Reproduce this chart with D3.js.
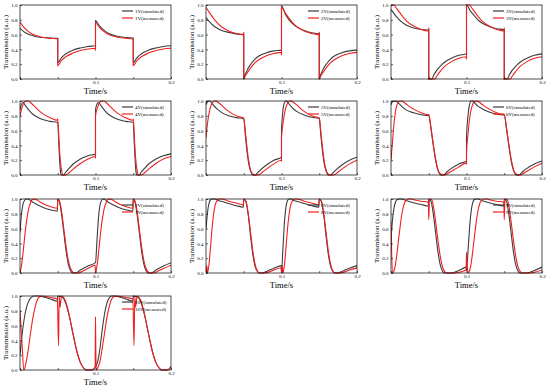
<!DOCTYPE html>
<html>
<head>
<meta charset="utf-8">
<script src="https://d3js.org/d3.v7.min.js"></script>
<style>
  body { margin: 0; background: #fff; }
  svg text { font-family: "Liberation Serif", "Times New Roman", serif; fill: #000; }
</style>
</head>
<body>
<svg id="chart" width="550" height="390"></svg>
<script>
// [time (s), transmission]
var sim1V = [[0,.685],[.005,.64],[.01,.61],[.015,.59],[.02,.575],[.03,.56],[.04,.553],[.05,.55],[.05,.22],[.055,.29],[.06,.335],[.07,.39],[.08,.42],[.09,.44],[.1,.45],[.1,.79],[.105,.72],[.11,.67],[.115,.63],[.12,.605],[.13,.575],[.14,.56],[.15,.555],[.15,.22],[.155,.29],[.16,.335],[.17,.39],[.18,.42],[.19,.44],[.2,.45]];
var meas1V = [[0,.77],[.005,.7],[.01,.65],[.015,.615],[.02,.59],[.03,.565],[.04,.55],[.05,.54],[.05,.18],[.055,.25],[.06,.295],[.07,.35],[.08,.385],[.09,.405],[.0995,.415],[.1,.39],[.1,.77],[.105,.7],[.11,.65],[.115,.615],[.12,.59],[.13,.565],[.14,.55],[.15,.54],[.15,.18],[.155,.25],[.16,.295],[.17,.35],[.18,.385],[.19,.405],[.2,.415]];

var sim2V = [[0,.83],[.005,.77],[.01,.72],[.015,.685],[.02,.66],[.03,.63],[.04,.61],[.05,.6],[.05,0],[.052,.06],[.055,.13],[.06,.21],[.065,.27],[.07,.31],[.08,.355],[.09,.38],[.1,.39],[.1,.99],[.105,.88],[.11,.8],[.115,.745],[.12,.705],[.13,.655],[.14,.625],[.15,.61],[.15,0],[.152,.06],[.155,.13],[.16,.21],[.165,.27],[.17,.31],[.18,.355],[.19,.38],[.2,.39]];
var meas2V = [[0,.97],[.005,.89],[.01,.82],[.015,.76],[.02,.71],[.03,.65],[.04,.615],[.0495,.595],[.05,.63],[.05,.01],[.052,.04],[.055,.09],[.06,.16],[.065,.22],[.07,.26],[.08,.315],[.09,.345],[.0995,.36],[.1,.33],[.1,.97],[.105,.89],[.11,.82],[.115,.76],[.12,.71],[.13,.65],[.14,.615],[.1495,.595],[.15,.63],[.15,.01],[.152,.04],[.155,.09],[.16,.16],[.165,.22],[.17,.26],[.18,.315],[.19,.345],[.2,.36]];

var sim3V = [[0,.94],[.005,.87],[.01,.81],[.015,.765],[.02,.73],[.03,.69],[.04,.67],[.05,.66],[.05,0],[.054,.001],[.057,.06],[.06,.11],[.065,.17],[.07,.22],[.08,.28],[.09,.32],[.1,.34],[.1,1],[.105,.92],[.11,.86],[.115,.8],[.12,.76],[.13,.71],[.14,.68],[.15,.665],[.15,0],[.154,.001],[.157,.06],[.16,.11],[.165,.17],[.17,.22],[.18,.28],[.19,.32],[.2,.34]];
var meas3V = [[0,.999],[.004,1],[.007,.96],[.01,.92],[.015,.85],[.02,.79],[.03,.715],[.04,.67],[.0495,.65],[.05,.69],[.05,0],[.058,.001],[.06,.03],[.065,.1],[.07,.16],[.08,.235],[.09,.28],[.0995,.3],[.1,.27],[.1,.999],[.104,1],[.107,.96],[.11,.92],[.115,.85],[.12,.79],[.13,.715],[.14,.67],[.1495,.65],[.15,.69],[.15,0],[.158,.001],[.16,.03],[.165,.1],[.17,.16],[.18,.235],[.19,.28],[.2,.3]];

var sim4V = [[0,.88],[.002,.96],[.004,.98],[.007,.94],[.01,.9],[.015,.84],[.02,.8],[.03,.75],[.04,.725],[.05,.71],[.0515,.4],[.053,.12],[.054,.02],[.055,0],[.058,.001],[.06,.03],[.065,.09],[.07,.145],[.08,.215],[.09,.26],[.1,.285],[.1,.88],[.102,.96],[.104,.98],[.107,.94],[.11,.9],[.115,.84],[.12,.8],[.13,.75],[.14,.725],[.15,.71],[.1515,.4],[.153,.12],[.154,.02],[.155,0],[.158,.001],[.16,.03],[.165,.09],[.17,.145],[.18,.215],[.19,.26],[.2,.285]];
var meas4V = [[0,.8],[.003,.92],[.006,.99],[.008,1],[.011,.999],[.015,.97],[.02,.92],[.025,.87],[.03,.83],[.04,.775],[.0495,.74],[.05,.76],[.0515,.5],[.053,.25],[.055,.07],[.057,0],[.061,.001],[.065,.03],[.07,.075],[.08,.155],[.09,.215],[.0995,.25],[.1,.23],[.1,.8],[.103,.92],[.106,.99],[.108,1],[.111,.999],[.115,.97],[.12,.92],[.125,.87],[.13,.83],[.14,.775],[.1495,.74],[.15,.76],[.1515,.5],[.153,.25],[.155,.07],[.157,0],[.161,.001],[.165,.03],[.17,.075],[.18,.155],[.19,.215],[.2,.25]];

var sim5V = [[0,.95],[.002,.99],[.004,1],[.007,.98],[.01,.94],[.015,.89],[.02,.85],[.03,.8],[.04,.775],[.05,.76],[.052,.55],[.054,.35],[.056,.19],[.058,.09],[.06,.03],[.062,0],[.065,.001],[.07,.05],[.08,.135],[.09,.2],[.1,.24],[.1,.6],[.102,.88],[.104,.98],[.106,1],[.108,.99],[.11,.96],[.115,.9],[.12,.86],[.13,.81],[.14,.78],[.15,.765],[.152,.55],[.154,.35],[.156,.19],[.158,.09],[.16,.03],[.162,0],[.165,.001],[.17,.05],[.18,.135],[.19,.2],[.2,.24]];
var meas5V = [[0,.5],[.002,.7],[.004,.83],[.006,.92],[.008,.97],[.011,1],[.013,.999],[.016,.98],[.02,.95],[.025,.9],[.03,.86],[.04,.8],[.05,.77],[.052,.6],[.054,.4],[.056,.23],[.058,.11],[.06,.04],[.062,.01],[.064,0],[.069,.001],[.075,.04],[.08,.08],[.09,.15],[.0995,.2],[.1,.19],[.1,.5],[.102,.7],[.104,.83],[.106,.92],[.108,.97],[.111,1],[.113,.999],[.116,.98],[.12,.95],[.125,.9],[.13,.86],[.14,.8],[.15,.77],[.152,.6],[.154,.4],[.156,.23],[.158,.11],[.16,.04],[.162,.01],[.164,0],[.169,.001],[.175,.04],[.18,.08],[.19,.15],[.2,.2]];

var sim6V = [[0,.95],[.002,.99],[.005,1],[.008,.99],[.01,.97],[.015,.92],[.02,.88],[.03,.84],[.04,.815],[.05,.8],[.053,.62],[.056,.4],[.059,.2],[.062,.07],[.065,.01],[.067,0],[.069,.001],[.075,.05],[.08,.09],[.09,.15],[.1,.19],[.1,.5],[.102,.8],[.104,.95],[.106,1],[.108,.999],[.11,.98],[.115,.93],[.12,.9],[.13,.85],[.14,.82],[.15,.81],[.153,.62],[.156,.4],[.159,.2],[.162,.07],[.165,.01],[.167,0],[.169,.001],[.175,.05],[.18,.09],[.19,.15],[.2,.19]];
var meas6V = [[0,.2],[.002,.45],[.004,.7],[.006,.86],[.008,.95],[.01,.99],[.013,1],[.016,.99],[.02,.96],[.025,.92],[.03,.89],[.04,.84],[.0495,.815],[.05,.82],[.053,.64],[.056,.42],[.06,.17],[.063,.05],[.066,.01],[.068,0],[.071,.001],[.075,.02],[.08,.05],[.09,.11],[.0995,.16],[.1,.15],[.1,.3],[.102,.55],[.104,.75],[.106,.88],[.108,.95],[.11,.99],[.113,1],[.116,.99],[.12,.96],[.125,.92],[.13,.89],[.14,.84],[.1495,.815],[.15,.82],[.153,.64],[.156,.42],[.16,.17],[.163,.05],[.166,.01],[.168,0],[.171,.001],[.175,.02],[.18,.05],[.19,.11],[.2,.16]];

var sim7V = [[0,.55],[.002,.8],[.004,.93],[.006,.98],[.008,1],[.011,.999],[.015,.97],[.02,.94],[.03,.89],[.04,.855],[.0495,.835],[.05,1],[.052,.97],[.055,.8],[.058,.55],[.061,.3],[.064,.12],[.067,.03],[.07,0],[.074,.001],[.08,.04],[.09,.095],[.1,.14],[.102,.45],[.104,.75],[.106,.92],[.108,.98],[.11,1],[.112,.999],[.115,.97],[.12,.94],[.13,.89],[.14,.855],[.1495,.835],[.15,1],[.152,.97],[.155,.8],[.158,.55],[.161,.3],[.164,.12],[.167,.03],[.17,0],[.174,.001],[.18,.04],[.19,.095],[.2,.14]];
var meas7V = [[0,0],[.002,.1],[.004,.27],[.006,.47],[.008,.65],[.01,.79],[.012,.89],[.014,.95],[.016,.99],[.019,1],[.022,.99],[.025,.97],[.03,.94],[.04,.9],[.0495,.875],[.05,1],[.052,.98],[.055,.84],[.058,.6],[.061,.36],[.064,.17],[.067,.06],[.07,.01],[.072,0],[.078,.001],[.082,.02],[.09,.06],[.0995,.105],[.1,0],[.102,.1],[.104,.27],[.106,.47],[.108,.65],[.11,.79],[.112,.89],[.114,.95],[.116,.99],[.119,1],[.122,.99],[.125,.97],[.13,.94],[.14,.9],[.1495,.875],[.15,1],[.152,.98],[.155,.84],[.158,.6],[.161,.36],[.164,.17],[.167,.06],[.17,.01],[.172,0],[.178,.001],[.182,.02],[.19,.06],[.2,.105]];

var sim8V = [[0,.6],[.002,.82],[.004,.94],[.006,.99],[.008,1],[.012,.999],[.016,.98],[.02,.97],[.03,.94],[.04,.91],[.0495,.89],[.05,1],[.053,.96],[.056,.78],[.059,.5],[.062,.25],[.065,.09],[.068,.02],[.07,0],[.075,.001],[.08,.02],[.09,.065],[.1,.1],[.1,.03],[.102,.35],[.104,.7],[.106,.9],[.108,.98],[.11,1],[.113,.999],[.116,.98],[.12,.97],[.13,.94],[.14,.91],[.1495,.89],[.15,1],[.153,.96],[.156,.78],[.159,.5],[.162,.25],[.165,.09],[.168,.02],[.17,0],[.175,.001],[.18,.02],[.19,.065],[.2,.1]];
var meas8V = [[0,0],[.001,.1],[.002,0],[.004,.12],[.006,.35],[.008,.6],[.01,.79],[.012,.91],[.014,.97],[.017,1],[.02,.999],[.025,.99],[.03,.97],[.04,.945],[.0495,.92],[.05,1],[.053,.97],[.056,.8],[.059,.55],[.062,.3],[.065,.12],[.068,.03],[.071,0],[.078,.001],[.085,.02],[.09,.04],[.0995,.07],[.1,0],[.101,.1],[.102,0],[.104,.12],[.106,.35],[.108,.6],[.11,.79],[.112,.91],[.114,.97],[.117,1],[.12,.999],[.125,.99],[.13,.97],[.14,.945],[.1495,.92],[.15,1],[.153,.97],[.156,.8],[.159,.55],[.162,.3],[.165,.12],[.168,.03],[.171,0],[.178,.001],[.185,.02],[.19,.04],[.2,.07]];

var sim9V = [[0,.45],[.002,.72],[.004,.88],[.006,.96],[.008,.99],[.01,1],[.014,.999],[.02,.98],[.03,.95],[.04,.925],[.0495,.905],[.05,1],[.053,.97],[.056,.8],[.059,.55],[.062,.3],[.065,.12],[.068,.03],[.071,0],[.08,.001],[.09,.035],[.1,.08],[.1,.03],[.102,.3],[.104,.6],[.106,.82],[.108,.94],[.11,.99],[.112,1],[.116,.999],[.12,.98],[.13,.95],[.14,.925],[.1495,.905],[.15,1],[.153,.97],[.156,.8],[.159,.55],[.162,.3],[.165,.12],[.168,.03],[.171,0],[.18,.001],[.19,.035],[.2,.08]];
var meas9V = [[0,.7],[.002,0],[.004,.03],[.006,.12],[.008,.27],[.01,.45],[.012,.62],[.014,.77],[.016,.88],[.018,.95],[.02,.98],[.023,1],[.027,.999],[.03,.99],[.04,.97],[.0495,.955],[.05,.72],[.051,1],[.054,.99],[.057,.85],[.06,.62],[.063,.38],[.066,.18],[.069,.06],[.072,.01],[.075,0],[.085,.001],[.09,.01],[.0995,.04],[.1,.28],[.101,.1],[.102,0],[.104,.03],[.106,.12],[.108,.27],[.11,.45],[.112,.62],[.114,.77],[.116,.88],[.118,.95],[.12,.98],[.123,1],[.127,.999],[.13,.99],[.14,.97],[.1495,.955],[.15,.72],[.151,1],[.154,.99],[.157,.85],[.16,.62],[.163,.38],[.166,.18],[.169,.06],[.172,.01],[.175,0],[.185,.001],[.19,.01],[.2,.04]];

var sim10V = [[0,.2],[.003,.5],[.006,.72],[.009,.86],[.012,.94],[.015,.98],[.018,1],[.025,.999],[.03,.99],[.04,.96],[.0495,.93],[.05,1],[.055,.99],[.06,.92],[.065,.74],[.07,.5],[.075,.27],[.08,.1],[.085,.02],[.088,0],[.095,.001],[.1,.04],[.103,.12],[.106,.3],[.109,.55],[.112,.76],[.115,.9],[.118,.97],[.121,1],[.125,.999],[.13,.99],[.14,.96],[.1495,.93],[.15,1],[.155,.99],[.16,.92],[.165,.74],[.17,.5],[.175,.27],[.18,.1],[.185,.02],[.188,0],[.195,.001],[.2,.04]];
var meas10V = [[0,.8],[.003,.3],[.005,0],[.008,.1],[.011,.28],[.014,.5],[.017,.7],[.02,.85],[.023,.95],[.026,.99],[.029,1],[.035,.99],[.04,.98],[.0495,.96],[.051,.33],[.052,1],[.053,.85],[.055,.999],[.06,.94],[.065,.75],[.07,.5],[.075,.26],[.08,.1],[.085,.02],[.088,0],[.096,.001],[.0995,.05],[.1,.72],[.1005,.2],[.101,0],[.103,.03],[.106,.12],[.109,.3],[.112,.5],[.115,.7],[.118,.85],[.121,.95],[.124,.99],[.127,1],[.135,.99],[.14,.98],[.1495,.96],[.151,.33],[.152,1],[.153,.85],[.155,.999],[.16,.94],[.165,.75],[.17,.5],[.175,.26],[.18,.1],[.185,.02],[.188,0],[.196,.001],[.2,.05]];

var voltages = ["1V","2V","3V","4V","5V","6V","7V","8V","9V","10V"];
var simSeries = [sim1V, sim2V, sim3V, sim4V, sim5V, sim6V, sim7V, sim8V, sim9V, sim10V];
var measSeries = [meas1V, meas2V, meas3V, meas4V, meas5V, meas6V, meas7V, meas8V, meas9V, meas10V];
var xTicks = [0, 0.05, 0.1, 0.15, 0.2];
var xLabels = [0.1, 0.2];
var yTicks = [0, 0.2, 0.4, 0.6, 0.8, 1.0];

// grid layout
var colLeft = [20, 206, 391],
    rowTop = [5, 101, 199, 296],
    pw = 151,
    ph = 74;

var simColor = "#3c3c3c",
    measColor = "#f02020";

var svg = d3.select("#chart");

voltages.forEach(function(v, i) {
  var left = colLeft[i % 3], top = rowTop[Math.floor(i / 3)];

  var x = d3.scaleLinear().domain([0, 0.2]).range([0, pw]);
  var y = d3.scaleLinear().domain([0, 1]).range([ph, 0]);

  var g = svg.append("g").attr("transform", "translate(" + left + "," + top + ")");

  g.append("clipPath").attr("id", "clip" + i)
    .append("rect").attr("x", 0).attr("y", -1).attr("width", pw).attr("height", ph + 2);

  var line = d3.line()
    .x(function(d) { return x(d[0]); })
    .y(function(d) { return y(d[1]); })
    .curve(d3.curveMonotoneX);

  var plot = g.append("g").attr("clip-path", "url(#clip" + i + ")");
  plot.append("path").datum(simSeries[i])
    .attr("d", line).attr("fill", "none")
    .attr("stroke", simColor).attr("stroke-width", 1.1);
  plot.append("path").datum(measSeries[i])
    .attr("d", line).attr("fill", "none")
    .attr("stroke", measColor).attr("stroke-width", 1.1);

  // axes
  var xAxis = d3.axisBottom(x).tickValues(xTicks)
    .tickSizeInner(-2).tickSizeOuter(0).tickPadding(1.5)
    .tickFormat(function(d) { return xLabels.indexOf(d) >= 0 ? d3.format(".1f")(d) : ""; });
  var yAxis = d3.axisLeft(y).tickValues(yTicks)
    .tickSizeInner(-2).tickSizeOuter(0).tickPadding(2.5)
    .tickFormat(d3.format(".1f"));

  var gx = g.append("g").attr("transform", "translate(0," + ph + ")").call(xAxis);
  var gy = g.append("g").call(yAxis);
  [gx, gy].forEach(function(a) {
    a.select(".domain").remove();
    a.selectAll("line").attr("stroke", "#000").attr("stroke-width", 0.6);
    a.selectAll("text").attr("font-size", 5).attr("font-family", "Liberation Serif");
  });

  // frame
  g.append("rect").attr("width", pw).attr("height", ph)
    .attr("fill", "none").attr("stroke", "#000").attr("stroke-width", 0.7);

  // axis titles
  g.append("text")
    .attr("transform", "translate(-12," + (ph / 2) + ") rotate(-90)")
    .attr("text-anchor", "middle")
    .attr("font-size", 7)
    .text("Transmission (a.u.)");
  g.append("text")
    .attr("x", pw / 2).attr("y", ph + 15)
    .attr("text-anchor", "middle")
    .attr("font-size", 8.5)
    .text("Time/s");

  // legend
  var leg = [[v + "(simulated)", simColor, 6], [v + "(measured)", measColor, 13]];
  leg.forEach(function(l) {
    g.append("line")
      .attr("x1", pw - 49).attr("x2", pw - 38)
      .attr("y1", l[2]).attr("y2", l[2])
      .attr("stroke", l[1]).attr("stroke-width", 1.2);
    g.append("text")
      .attr("x", pw - 36).attr("y", l[2])
      .attr("dy", "0.35em")
      .attr("font-size", 5)
      .text(l[0]);
  });
});
</script>
</body>
</html>
